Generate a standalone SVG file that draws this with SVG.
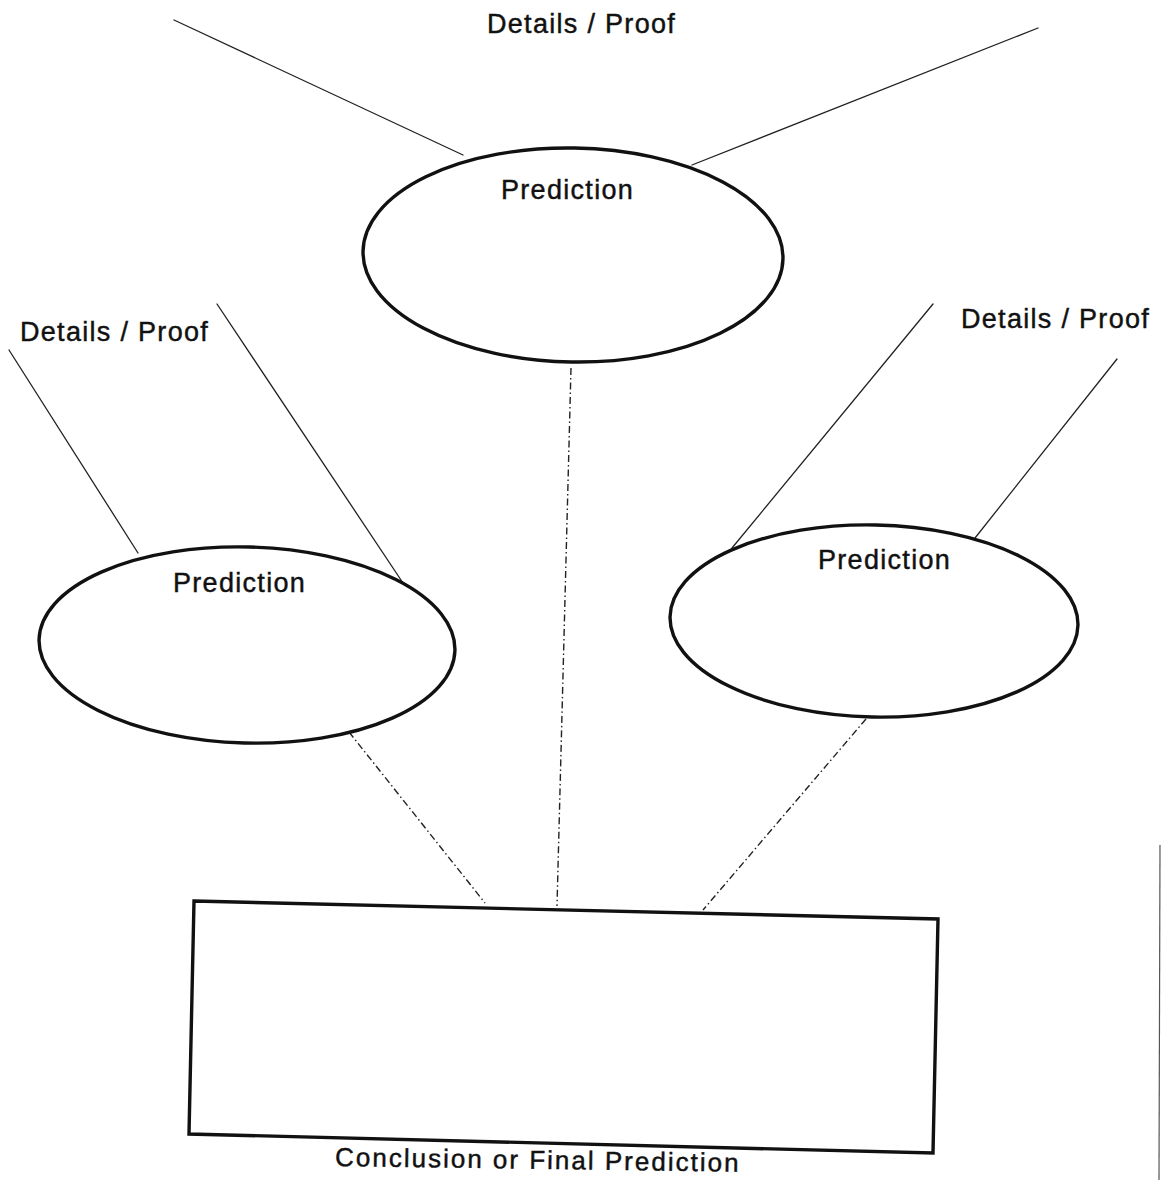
<svg xmlns="http://www.w3.org/2000/svg" width="1162" height="1180" viewBox="0 0 1162 1180">
<style>
.bg{fill:#ffffff}
.shape{fill:none;stroke:#111;stroke-width:3.4}
.line{fill:none;stroke:#222;stroke-width:1.3;stroke-linecap:round}
.dash{fill:none;stroke:#222;stroke-width:1.4;stroke-dasharray:7 3 1.5 3}
.lbl{font-family:"Liberation Sans",Arial,sans-serif;font-size:27px;letter-spacing:1.3px;fill:#111;stroke:#111;stroke-width:0.45}
.edge{fill:none;stroke:#555;stroke-width:1.2}
</style>
<rect class="bg" x="0" y="0" width="1162" height="1180"/>
<g id="connectors">
<line class="line" x1="174" y1="20" x2="463" y2="155"/>
<line class="line" x1="1038" y1="28" x2="692" y2="165"/>
<line class="line" x1="9" y1="350" x2="138" y2="553"/>
<line class="line" x1="217" y1="304" x2="403" y2="583"/>
<line class="line" x1="933" y1="304" x2="732" y2="548"/>
<line class="line" x1="1117" y1="359" x2="975" y2="538"/>
<line class="dash" x1="571" y1="368" x2="557" y2="906"/>
<line class="dash" x1="349" y1="732" x2="485" y2="903"/>
<line class="dash" x1="866" y1="719" x2="703" y2="910"/>
</g>
<g id="top-details"><text class="lbl" x="487" y="33">Details / Proof</text></g>
<g id="top-prediction">
<ellipse class="shape" cx="573" cy="255" rx="210" ry="107" transform="rotate(1 573 255)"/>
<text class="lbl" x="501" y="199">Prediction</text>
</g>
<g id="left-details"><text class="lbl" x="20" y="341">Details / Proof</text></g>
<g id="left-prediction">
<ellipse class="shape" cx="247" cy="645" rx="208" ry="98" transform="rotate(1.5 247 645)"/>
<text class="lbl" x="173" y="592">Prediction</text>
</g>
<g id="right-details"><text class="lbl" x="961" y="328">Details / Proof</text></g>
<g id="right-prediction">
<ellipse class="shape" cx="874" cy="621" rx="204" ry="96" transform="rotate(1.2 874 621)"/>
<text class="lbl" x="818" y="569">Prediction</text>
</g>
<g id="conclusion">
<polygon class="shape" points="194,901 938,919 933,1153 189,1134"/>
<text class="lbl" x="335" y="1166" style="font-size:26px;letter-spacing:2px" transform="rotate(0.8 335 1166)">Conclusion or Final Prediction</text>
</g>
<line class="edge" x1="1160" y1="845" x2="1159" y2="1180"/>
</svg>
